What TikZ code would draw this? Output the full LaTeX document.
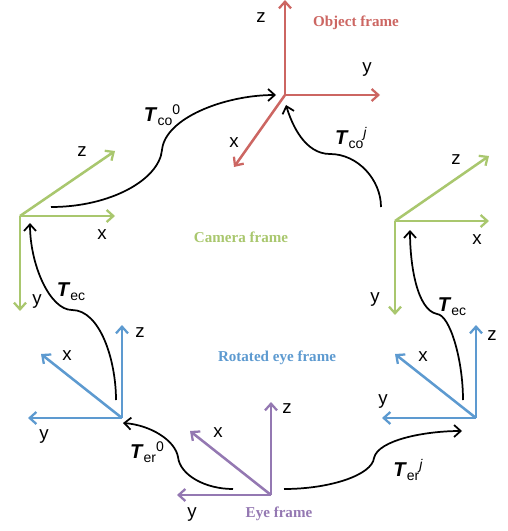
\documentclass[tikz,border=0pt]{standalone}
\usepackage{fontspec}
\setmainfont{Liberation Sans}
\newfontfamily\titulo{Liberation Serif}
\usetikzlibrary{arrows.meta}
\definecolor{rojoObjeto}{RGB}{204, 102, 98}
\definecolor{verdeCamara}{RGB}{169, 199, 110}
\definecolor{azulOjo}{RGB}{93, 154, 208}
\definecolor{moradoOjo}{RGB}{148, 120, 178}
\newcommand{\trafo}[2]{\textbf{\textit{T}}\raisebox{-3pt}{\fontsize{10.5}{12}\selectfont #1}\raisebox{5.5pt}{\fontsize{10.5}{12}\selectfont #2}}

\begin{document}
\begin{tikzpicture}[
  x=0.75pt, y=-0.75pt,
  eje/.style={-{Straight Barb[length=5pt,width=9pt,line width=1.7pt]}, line width=1.9pt},
  trans/.style={-{Straight Barb[length=5pt,width=9pt,line width=1.3pt]}, line width=1.3pt, black},
  etiq/.style={inner sep=0pt, font=\fontsize{14}{16}\selectfont},
  marco/.style={inner sep=0pt, font=\fontsize{11.3}{13}\selectfont\titulo\bfseries},
  tlabel/.style={inner sep=0pt, font=\fontsize{15}{17}\selectfont}
]
\useasboundingbox (0,0) rectangle (507,531);

% object frame
\coordinate (oo) at (285,95);
\coordinate (oz) at (285,0);
\coordinate (oy) at (380,95);
\coordinate (ox) at (234,167);
\draw[eje, rojoObjeto] (oo) -- (oz);
\draw[eje, rojoObjeto] (oo) -- (oy);
\draw[eje, rojoObjeto] (oo) -- (ox);
\node[etiq] (ozl) at (261,18) {z};
\node[etiq] (oyl) at (367,70) {y};
\node[etiq] (oxl) at (234,143) {x};
\node[marco, rojoObjeto] (omarco) at (356,23) {Object frame};

% camera frames
\coordinate (co) at (20,216);
\coordinate (cz) at (115,151);
\coordinate (cx) at (115,216);
\coordinate (cy) at (20,311);
\draw[eje, verdeCamara] (co) -- (cz);
\draw[eje, verdeCamara] (co) -- (cx);
\draw[eje, verdeCamara] (co) -- (cy);
\node[etiq] (czl) at (82,152) {z};
\node[etiq] (cxl) at (102,235) {x};
\node[etiq] (cyl) at (37,302) {y};

\coordinate (do) at (395,221);
\coordinate (dz) at (489,156);
\coordinate (dx) at (489,221);
\coordinate (dy) at (395,315);
\draw[eje, verdeCamara] (do) -- (dz);
\draw[eje, verdeCamara] (do) -- (dx);
\draw[eje, verdeCamara] (do) -- (dy);
\node[etiq] (dzl) at (456,160) {z};
\node[etiq] (dxl) at (477,240) {x};
\node[etiq] (dyl) at (375,300) {y};
\node[marco, verdeCamara] (cmarco) at (241,237) {Camera frame};

% rotated eye frames
\coordinate (ro) at (122,418);
\coordinate (rz) at (122,325);
\coordinate (rx) at (41,354);
\coordinate (ry) at (28,418);
\draw[eje, azulOjo] (ro) -- (rz);
\draw[eje, azulOjo] (ro) -- (rx);
\draw[eje, azulOjo] (ro) -- (ry);
\node[etiq] (rzl) at (140,333) {z};
\node[etiq] (rxl) at (67,356) {x};
\node[etiq] (ryl) at (44,437) {y};

\coordinate (so) at (476,418);
\coordinate (sz) at (476,325);
\coordinate (sx) at (395,354);
\coordinate (sy) at (382,418);
\draw[eje, azulOjo] (so) -- (sz);
\draw[eje, azulOjo] (so) -- (sx);
\draw[eje, azulOjo] (so) -- (sy);
\node[etiq] (szl) at (492,336) {z};
\node[etiq] (sxl) at (423,357) {x};
\node[etiq] (syl) at (383,402) {y};
\node[marco, azulOjo] (rmarco) at (277,358) {Rotated eye frame};

% eye frame
\coordinate (eo) at (271,495);
\coordinate (ez) at (271,402);
\coordinate (ex) at (190,431);
\coordinate (ey) at (177,495);
\draw[eje, moradoOjo] (eo) -- (ez);
\draw[eje, moradoOjo] (eo) -- (ex);
\draw[eje, moradoOjo] (eo) -- (ey);
\node[etiq] (ezl) at (287,409) {z};
\node[etiq] (exl) at (218,433) {x};
\node[etiq] (eyl) at (192,514) {y};
\node[marco, moradoOjo] (emarco) at (279,514) {Eye frame};

% transforms
\coordinate (a1) at (51,207);
\coordinate (a2) at (276,95);
\draw[trans] (a1) .. controls (110,207) and (159,180) .. (162,150)
  .. controls (165,118) and (225,95) .. (a2);
\node[tlabel] (tco0) at (162,115) {\trafo{co}{0}};

\coordinate (b1) at (381,207);
\coordinate (b2) at (286,105);
\draw[trans] (b1) .. controls (381,180) and (358,154) .. (330,154)
  .. controls (305,154) and (292,125) .. (b2);
\node[tlabel] (tcoj) at (351,138) {\trafo{co}{\textit{j}}};

\coordinate (c1) at (116,400);
\coordinate (c2) at (30,223);
\draw[trans] (c1) .. controls (116,360) and (100,310) .. (72,310)
  .. controls (50,310) and (30,265) .. (c2);
\node[tlabel] (tec1) at (71,292) {\trafo{ec}{}};

\coordinate (d1) at (463,400);
\coordinate (d2) at (410,230);
\draw[trans] (d1) .. controls (463,360) and (450,315) .. (437,314)
  .. controls (417,310) and (410,265) .. (d2);
\node[tlabel] (tec2) at (452,307) {\trafo{ec}{}};

\coordinate (e1) at (233,489);
\coordinate (e2) at (123,423);
\draw[trans] (e1) .. controls (205,489) and (180,475) .. (178,457)
  .. controls (175,440) and (150,425) .. (e2);
\node[tlabel] (ter0) at (147,452) {\trafo{er}{0}};

\coordinate (f1) at (284,489);
\coordinate (f2) at (462,431);
\draw[trans] (f1) .. controls (330,489) and (372,475) .. (374,458)
  .. controls (378,440) and (425,431) .. (f2);
\node[tlabel] (terj) at (408,470) {\trafo{er}{\textit{j}}};
\end{tikzpicture}
\end{document}
